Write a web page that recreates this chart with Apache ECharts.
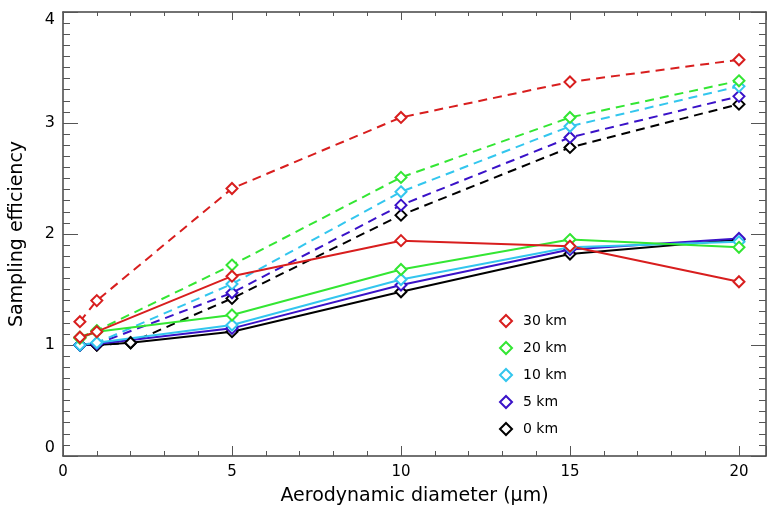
<!DOCTYPE html>
<html>
<head>
<meta charset="utf-8">
<script src="https://cdn.jsdelivr.net/npm/echarts@6/dist/echarts.min.js"></script>
<style>html,body{margin:0;padding:0;background:#fff}#c{width:767px;height:517px}</style>
</head>
<body>
<div id="c"></div>
<script>
// Altitude labels and colours
const names = ['30 km', '20 km', '10 km', '5 km', '0 km'];
const colors = ['#d81e1e', '#33e633', '#33c6ee', '#3a12c8', '#000000'];

// Aerodynamic diameter (um)
const xMain = [0.5, 1, 5, 10, 15, 20];
const xBlack = [0.5, 1, 2, 5, 10, 15, 20];

// Solid curves
const solid30 = [1.07, 1.12, 1.62, 1.94, 1.89, 1.57];
const solid20 = [1.06, 1.12, 1.27, 1.68, 1.95, 1.88];
const solid10 = [1.00, 1.02, 1.18, 1.59, 1.88, 1.93];
const solid5  = [1.00, 1.01, 1.15, 1.54, 1.86, 1.96];
const solid0  = [1.00, 1.00, 1.02, 1.12, 1.48, 1.82, 1.95];

// Dashed curves
const dash30 = [1.21, 1.40, 2.41, 3.05, 3.37, 3.57];
const dash20 = [1.07, 1.13, 1.72, 2.51, 3.05, 3.38];
const dash10 = [1.00, 1.02, 1.55, 2.38, 2.97, 3.33];
const dash5  = [1.00, 1.01, 1.47, 2.26, 2.87, 3.24];
const dash0  = [1.00, 1.00, 1.02, 1.42, 2.17, 2.78, 3.17];

const solids = [[xMain, solid30], [xMain, solid20], [xMain, solid10], [xMain, solid5], [xBlack, solid0]];
const dashes = [[xMain, dash30], [xMain, dash20], [xMain, dash10], [xMain, dash5], [xBlack, dash0]];

const FONT = 'DejaVu Sans';

function mk(i, pair, dashed) {
  const xs = pair[0], ys = pair[1];
  return {
    type: 'line',
    name: names[i],
    data: xs.map((x, k) => [x, ys[k]]),
    symbol: 'diamond',
    symbolSize: 11,
    showAllSymbol: true,
    z: dashed ? 2 : 3,
    itemStyle: { color: '#ffffff', borderColor: colors[i], borderWidth: 2 },
    lineStyle: { color: colors[i], width: 2, type: dashed ? [9, 6] : 'solid' },
    emphasis: { disabled: true },
    animation: false
  };
}

const series = [];
for (let i = 4; i >= 0; i--) series.push(mk(i, dashes[i], true));
for (let i = 4; i >= 0; i--) series.push(mk(i, solids[i], false));

const axisLineStyle = { color: '#444', width: 1.5 };
const tickStyle = { color: '#555', width: 1 };

const chart = echarts.init(document.getElementById('c'), null, { renderer: 'canvas' });
chart.setOption({
  backgroundColor: '#ffffff',
  animation: false,
  grid: { left: 61, top: 12, width: 705, height: 444, containLabel: false },
  legend: {
    orient: 'vertical',
    left: 494,
    top: 309,
    itemWidth: 12,
    itemHeight: 12,
    itemGap: 13,
    selectedMode: false,
    textStyle: { fontFamily: FONT, fontSize: 14, color: '#000', padding: [0, 0, 0, 6] },
    data: names.map((n, i) => ({
      name: n,
      icon: 'diamond',
      itemStyle: { color: '#ffffff', borderColor: colors[i], borderWidth: 2 }
    }))
  },
  xAxis: [{
    type: 'value',
    min: 0, max: 20.8, interval: 5,
    position: 'bottom',
    name: 'Aerodynamic diameter (μm)',
    nameLocation: 'middle',
    nameGap: 31,
    nameTextStyle: { fontFamily: FONT, fontSize: 19, color: '#000' },
    axisLine: { show: true, onZero: false, lineStyle: axisLineStyle },
    axisTick: { show: true, inside: true, length: 10, lineStyle: tickStyle },
    minorTick: { show: true, splitNumber: 5, length: 5, lineStyle: tickStyle },
    splitLine: { show: false },
    axisLabel: {
      fontFamily: FONT, fontSize: 15, color: '#000', margin: 9,
      showMaxLabel: false,
      formatter: v => (v % 5 === 0 ? String(v) : '')
    }
  }, {
    type: 'value',
    min: 0, max: 20.8, interval: 5,
    position: 'top',
    axisLine: { show: true, onZero: false, lineStyle: axisLineStyle },
    axisTick: { show: true, inside: true, length: 8, lineStyle: tickStyle },
    minorTick: { show: true, splitNumber: 5, length: 4, lineStyle: tickStyle },
    splitLine: { show: false },
    axisLabel: { show: false }
  }],
  yAxis: [{
    type: 'value',
    min: 0, max: 4, interval: 1,
    position: 'left',
    name: 'Sampling efficiency',
    nameLocation: 'middle',
    nameGap: 36,
    nameTextStyle: { fontFamily: FONT, fontSize: 19, color: '#000' },
    axisLine: { show: true, onZero: false, lineStyle: axisLineStyle },
    axisTick: { show: true, inside: true, length: 15, lineStyle: tickStyle },
    minorTick: { show: true, splitNumber: 10, length: 7, lineStyle: tickStyle },
    splitLine: { show: false },
    axisLabel: {
      fontFamily: FONT, fontSize: 16, color: '#000', margin: 8,
      verticalAlignMinLabel: 'bottom',
      verticalAlignMaxLabel: 'top'
    }
  }, {
    type: 'value',
    min: 0, max: 4, interval: 1,
    position: 'right',
    axisLine: { show: true, onZero: false, lineStyle: axisLineStyle },
    axisTick: { show: true, inside: true, length: 15, lineStyle: tickStyle },
    minorTick: { show: true, splitNumber: 10, length: 7, lineStyle: tickStyle },
    splitLine: { show: false },
    axisLabel: { show: false }
  }],
  series: series
});
</script>
</body>
</html>
